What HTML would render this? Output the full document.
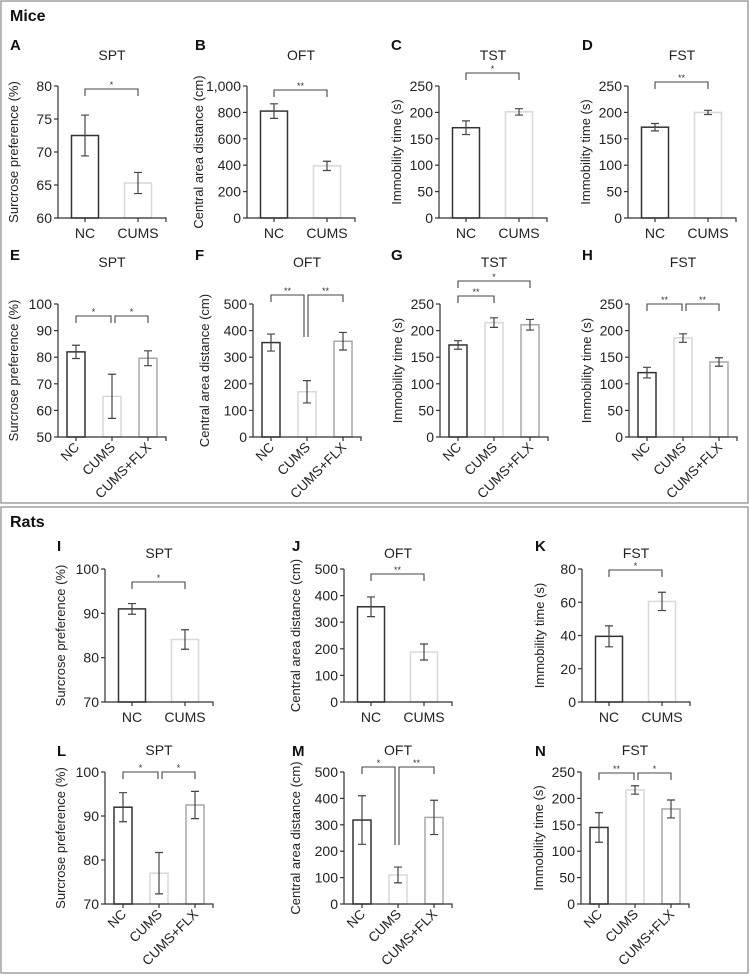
<!DOCTYPE html>
<html><head><meta charset="utf-8"><style>
html,body{margin:0;padding:0;background:#fff}
svg{display:block;font-family:"Liberation Sans",Arial,sans-serif}
</style></head><body>
<svg id="fig" width="750" height="975" viewBox="0 0 750 975">
<rect x="1" y="1" width="747" height="502" fill="none" stroke="#888" stroke-width="1.2"/>
<rect x="1" y="507" width="747" height="466" fill="none" stroke="#888" stroke-width="1.2"/>
<text x="10" y="21" font-size="16" font-weight="bold" fill="#111">Mice</text>
<text x="10" y="527" font-size="16" font-weight="bold" fill="#111">Rats</text>
</svg>
<script>
// ---- data ----
const cats2 = ["NC","CUMS"];
const cats3 = ["NC","CUMS","CUMS+FLX"];
const aMeans=[72.5,65.3], aErr=[3.1,1.6], aTicks=[60,65,70,75,80];
const bMeans=[810,395], bErr=[55,35], bTicks=[0,200,400,600,800,1000];
const cMeans=[171,201], cErr=[13,6], cTicks=[0,50,100,150,200,250];
const dMeans=[172,200], dErr=[7,4], dTicks=[0,50,100,150,200,250];
const eMeans=[82,65.3,79.6], eErr=[2.5,8.3,2.8], eTicks=[50,60,70,80,90,100];
const fMeans=[355,170,360], fErr=[32,42,33], fTicks=[0,100,200,300,400,500];
const gMeans=[173,215,211], gErr=[8,9,10], gTicks=[0,50,100,150,200,250];
const hMeans=[121,186,141], hErr=[10,8,8], hTicks=[0,50,100,150,200,250];
const iMeans=[91,84.1], iErr=[1.2,2.2], iTicks=[70,80,90,100];
const jMeans=[358,188], jErr=[37,30], jTicks=[0,100,200,300,400,500];
const kMeans=[39.5,60.5], kErr=[6.3,5.5], kTicks=[0,20,40,60,80];
const lMeans=[92,77,92.5], lErr=[3.3,4.7,3.1], lTicks=[70,80,90,100];
const mMeans=[318,110,328], mErr=[92,30,65], mTicks=[0,100,200,300,400,500];
const nMeans=[145,216,180], nErr=[28,8,17], nTicks=[0,50,100,150,200,250];

const NS="http://www.w3.org/2000/svg";
const svg=document.getElementById('fig');
const strokes=["#333","#d8d8d8","#a8a8a8"];
function mk(tag,attrs,parent){const e=document.createElementNS(NS,tag);for(const k in attrs)e.setAttribute(k,attrs[k]);(parent||svg).appendChild(e);return e;}

function panel(p){
  const g=mk('g',{});
  
  
  const n=p.means.length;
  const yS=v=>p.yBot-(v-p.min)/(p.max-p.min)*(p.yBot-p.yTop);
  const xEnd=p.x0+108;
  const step=n===2?53:36;
  const first=n===2?p.x0+27:p.x0+18;
  const xC=i=>first+i*step;
  const bw=n===2?27:18;
  for(let i=0;i<n;i++){
    const y=yS(p.means[i]);
    const r=mk('rect',{x:xC(i)-bw/2,y:y,width:bw,height:p.yBot-y,fill:"#fff",stroke:strokes[i],'stroke-width':1.5},g);
    
    
    const y1=yS(p.means[i]+p.err[i]), y2=yS(p.means[i]-p.err[i]);
    const eb=mk('path',{d:`M${xC(i)},${y1}V${y2}M${xC(i)-4},${y1}H${xC(i)+4}M${xC(i)-4},${y2}H${xC(i)+4}`,stroke:"#444",'stroke-width':1.2,fill:"none"},g);
    
    
  }
  const ax=mk('path',{d:`M${p.x0},${p.yTop}V${p.yBot}H${xEnd}V${p.yBot+4}`,stroke:"#333",'stroke-width':1.2,fill:"none"},g);
  
  
  p.ticks.forEach(t=>{
    const y=yS(t);
    mk('line',{x1:p.x0-4,x2:p.x0,y1:y,y2:y,stroke:"#333",'stroke-width':1.2},g);
    const tx=mk('text',{x:p.x0-6,y:y+5,'font-size':14,'text-anchor':'end',fill:"#222"},g);
    tx.textContent=t>=1000?t.toLocaleString('en-US'):t;
    
    
  });
  for(let i=0;i<n;i++){
    mk('line',{x1:xC(i),x2:xC(i),y1:p.yBot,y2:p.yBot+4,stroke:"#333",'stroke-width':1.2},g);
    let tx;
    if(p.rot){
      tx=mk('text',{x:xC(i)+4,y:p.yBot+11,'font-size':13.5,'text-anchor':'end',fill:"#222",transform:`rotate(-45 ${xC(i)+4} ${p.yBot+11})`},g);
    }else{
      tx=mk('text',{x:xC(i),y:p.yBot+20,'font-size':14,'text-anchor':'middle',fill:"#222"},g);
    }
    tx.textContent=p.cats[i];
    
    
  }
  const ym=(p.yTop+p.yBot)/2, lx=p.x0-p.ylOff;
  const yl=mk('text',{x:lx,y:ym,'font-size':13,'text-anchor':'middle',fill:"#222",transform:`rotate(-90 ${lx} ${ym})`},g);
  yl.textContent=p.ylabel;
  
  
  const tt=mk('text',{x:(p.x0+xEnd)/2,y:p.titleY,'font-size':14,'text-anchor':'middle',fill:"#222"},g);
  tt.textContent=p.title;
  
  
  const lb=mk('text',{x:p.lx,y:p.ly,'font-size':15,'font-weight':'bold',fill:"#111"},g);
  lb.textContent=p.label;
  
  
  (p.br||[]).forEach(b=>{
    const xa=xC(b[0])+(b[6]||0), xb=xC(b[1])+(b[7]||0);
    const bl=b[4]||b[2]+7, brr=b[5]||b[2]+7;
    const pa=mk('path',{d:`M${xa},${bl}V${b[2]}H${xb}V${brr}`,stroke:"#444",'stroke-width':1.1,fill:"none"},g);
    
    
    const st=mk('text',{x:(xa+xb)/2,y:b[2]-1,'font-size':9,'text-anchor':'middle',fill:"#333"},g);
    st.textContent=b[3];
    
    
  });
}
const SP="Surcrose preference (%)", CA="Central area distance (cm)", IM="Immobility time (s)";
panel({label:"A",lx:10,ly:50,title:"SPT",titleY:60,x0:58,yTop:86,yBot:218,min:60,max:80,ticks:aTicks,means:aMeans,err:aErr,cats:cats2,ylabel:SP,ylOff:40,br:[[0,1,89,"*"]]});
panel({label:"B",lx:195,ly:50,title:"OFT",titleY:60,x0:247,yTop:86,yBot:218,min:0,max:1000,ticks:bTicks,means:bMeans,err:bErr,cats:cats2,ylabel:CA,ylOff:44,br:[[0,1,90,"**"]]});
panel({label:"C",lx:391,ly:50,title:"TST",titleY:60,x0:439,yTop:86,yBot:218,min:0,max:250,ticks:cTicks,means:cMeans,err:cErr,cats:cats2,ylabel:IM,ylOff:38,br:[[0,1,73,"*"]]});
panel({label:"D",lx:582,ly:50,title:"FST",titleY:60,x0:628,yTop:86,yBot:218,min:0,max:250,ticks:dTicks,means:dMeans,err:dErr,cats:cats2,ylabel:IM,ylOff:38,br:[[0,1,82,"**"]]});
panel({label:"E",lx:10,ly:260,title:"SPT",titleY:267,x0:58,yTop:304,yBot:437,min:50,max:100,ticks:eTicks,means:eMeans,err:eErr,cats:cats3,rot:true,ylabel:SP,ylOff:40,br:[[0,1,316,"*",0,0,0,-1],[1,2,316,"*",0,0,3,0]]});
panel({label:"F",lx:195,ly:260,title:"OFT",titleY:267,x0:253,yTop:304,yBot:437,min:0,max:500,ticks:fTicks,means:fMeans,err:fErr,cats:cats3,rot:true,ylabel:CA,ylOff:44,br:[[0,1,295,"**",302,337,0,-3],[1,2,295,"**",337,302,1,0]]});
panel({label:"G",lx:391,ly:260,title:"TST",titleY:267,x0:440,yTop:304,yBot:437,min:0,max:250,ticks:gTicks,means:gMeans,err:gErr,cats:cats3,rot:true,ylabel:IM,ylOff:38,br:[[0,2,281,"*"],[0,1,296,"**"]]});
panel({label:"H",lx:582,ly:260,title:"FST",titleY:267,x0:629,yTop:304,yBot:437,min:0,max:250,ticks:hTicks,means:hMeans,err:hErr,cats:cats3,rot:true,ylabel:IM,ylOff:38,br:[[0,1,304,"**",0,0,0,-1],[1,2,304,"**",0,0,3,0]]});
panel({label:"I",lx:57,ly:551,title:"SPT",titleY:558,x0:105,yTop:569,yBot:702,min:70,max:100,ticks:iTicks,means:iMeans,err:iErr,cats:cats2,ylabel:SP,ylOff:40,br:[[0,1,582,"*"]]});
panel({label:"J",lx:292,ly:551,title:"OFT",titleY:558,x0:344,yTop:569,yBot:702,min:0,max:500,ticks:jTicks,means:jMeans,err:jErr,cats:cats2,ylabel:CA,ylOff:44,br:[[0,1,574,"**"]]});
panel({label:"K",lx:535,ly:551,title:"FST",titleY:558,x0:582,yTop:569,yBot:702,min:0,max:80,ticks:kTicks,means:kMeans,err:kErr,cats:cats2,ylabel:IM,ylOff:38,br:[[0,1,570,"*"]]});
panel({label:"L",lx:57,ly:756,title:"SPT",titleY:755,x0:105,yTop:772,yBot:904,min:70,max:100,ticks:lTicks,means:lMeans,err:lErr,cats:cats3,rot:true,ylabel:SP,ylOff:40,br:[[0,1,772,"*",0,0,0,-1],[1,2,772,"*",0,0,3,0]]});
panel({label:"M",lx:292,ly:756,title:"OFT",titleY:755,x0:344,yTop:772,yBot:904,min:0,max:500,ticks:mTicks,means:mMeans,err:mErr,cats:cats3,rot:true,ylabel:CA,ylOff:44,br:[[0,1,767,"*",774,845,0,-3],[1,2,767,"**",845,774,1,0]]});
panel({label:"N",lx:535,ly:756,title:"FST",titleY:755,x0:581,yTop:772,yBot:904,min:0,max:250,ticks:nTicks,means:nMeans,err:nErr,cats:cats3,rot:true,ylabel:IM,ylOff:38,br:[[0,1,773,"**",0,0,0,-1],[1,2,773,"*",0,0,3,0]]});
</script>
</body></html>
